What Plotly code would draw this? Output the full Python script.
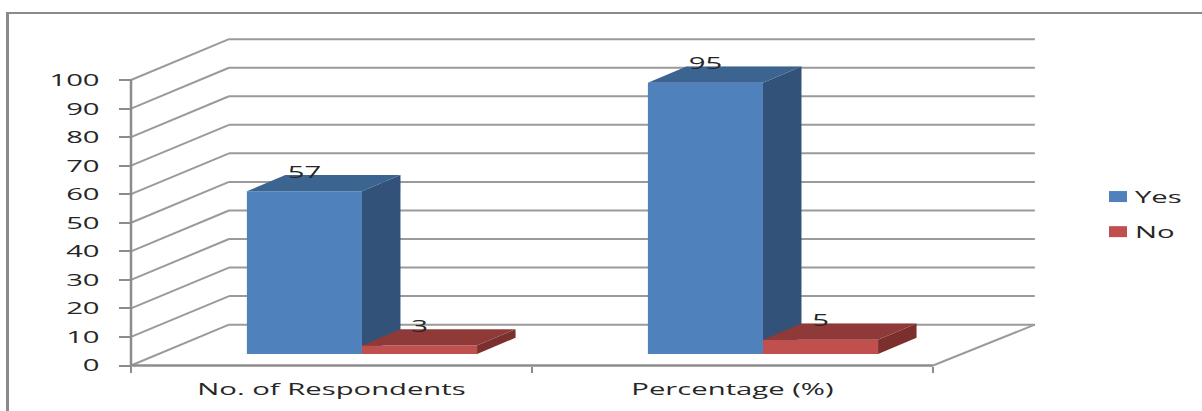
import plotly.graph_objects as go

# Survey results
categories = ["No. of Respondents", "Percentage (%)"]
yes_values = [57, 95]
no_values = [3, 5]
y_ticks = [0, 10, 20, 30, 40, 50, 60, 70, 80, 90, 100]

# Oblique projection of the fake 3D box, in axis units
WALL_DX, WALL_DY = 0.2444, 14.3      # floor front edge to back wall
WALL_END = 2.254                     # right end of the back wall
BAR_DX, BAR_DY = 0.096, 5.7          # depth of each bar
BAR_LIFT = 4.03                      # bars stand slightly behind the floor edge
BAR_W = 0.287
YES_OFFSET, NO_OFFSET = 0.289, 0.576

X_RANGE = [-131 / 401, 1071 / 401]
Y_RANGE = [-45.5 / 2.855, 365.5 / 2.855]

GRID = "#9a9a9a"
FONT = dict(family="Open Sans", size=17, color="#262626")

fig = go.Figure()
shapes = []


def seg(x0, y0, x1, y1, color=GRID, width=2):
    shapes.append(dict(type="line", xref="x", yref="y", x0=x0, y0=y0, x1=x1, y1=y1,
                       layer="below", line=dict(color=color, width=width)))


# Wall gridlines and the floor outline
for v in y_ticks:
    seg(0, v, WALL_DX, v + WALL_DY)
    seg(WALL_DX, v + WALL_DY, WALL_END, v + WALL_DY)
seg(2, 0, WALL_END, WALL_DY)
seg(0, 0, 0, 100, "#8c8c8c", 2.5)
seg(0, 0, 2, 0, "#8c8c8c", 2.5)

# Outer chart frame (open on the right and at the bottom)
shapes.append(dict(type="line", xref="paper", yref="paper", x0=7.5 / 1202, x1=7.5 / 1202,
                   y0=0, y1=1 - 13 / 411, line=dict(color="#8a8a8a", width=3)))
shapes.append(dict(type="line", xref="paper", yref="paper", x0=6 / 1202, x1=1,
                   y0=1 - 13 / 411, y1=1 - 13 / 411, line=dict(color="#8a8a8a", width=2)))


def box_faces(left, value, top_color, side_color, xa, ya):
    """Top and right faces of a bar whose front face is drawn as a Bar trace."""
    right = left + BAR_W
    y0, y1 = BAR_LIFT, BAR_LIFT + value
    fig.add_trace(go.Scatter(
        x=[right, right + BAR_DX, right + BAR_DX, right, right],
        y=[y0, y0 + BAR_DY, y1 + BAR_DY, y1, y0],
        mode="lines", fill="toself", fillcolor=side_color, line=dict(width=0),
        showlegend=False, hoverinfo="skip", xaxis=xa, yaxis=ya))
    fig.add_trace(go.Scatter(
        x=[left, left + BAR_DX, right + BAR_DX, right, left],
        y=[y1, y1 + BAR_DY, y1 + BAR_DY, y1, y1],
        mode="lines", fill="toself", fillcolor=top_color, line=dict(width=0),
        showlegend=False, hoverinfo="skip", xaxis=xa, yaxis=ya))


# The No series lives on an overlaying axis pair so its boxes sit in front of Yes
series = [
    ("Yes", yes_values, YES_OFFSET, "#4F81BD", "#3C6491", "#325279", "x", "y"),
    ("No", no_values, NO_OFFSET, "#C0504D", "#8F3A38", "#7C302E", "x2", "y2"),
]

for name, values, offset, front, top, side, xa, ya in series:
    lefts = [i + offset for i in range(len(values))]
    fig.add_trace(go.Bar(
        name=name, legendgroup=name, xaxis=xa, yaxis=ya,
        x=[l + BAR_W / 2 for l in lefts], y=values, base=BAR_LIFT, width=BAR_W,
        marker=dict(color=front, line=dict(width=0))))
    for l, v in zip(lefts, values):
        box_faces(l, v, top, side, xa, ya)
    # Value labels sit just above each bar's top face
    fig.add_trace(go.Scatter(
        x=[l + BAR_W / 2 for l in lefts],
        y=[BAR_LIFT + v + 6.3 for v in values],
        mode="text", text=[str(v) for v in values], textposition="middle center",
        textfont=FONT, showlegend=False, hoverinfo="skip", xaxis=xa, yaxis=ya))

fig.update_layout(
    width=1202, height=411,
    margin=dict(l=0, r=0, t=0, b=0),
    paper_bgcolor="white", plot_bgcolor="white",
    shapes=shapes, barmode="overlay", showlegend=True,
    font=FONT,
    legend=dict(x=1098 / 1202, y=1 - 179 / 411, xanchor="left", yanchor="top",
                bgcolor="rgba(0,0,0,0)", traceorder="grouped", tracegroupgap=10,
                itemwidth=30, font=FONT),
    xaxis=dict(range=X_RANGE, domain=[0, 1], anchor="free",
               position=45.5 / 411, showgrid=False, zeroline=False, showline=False,
               tickmode="array", tickvals=[0.5, 1.5], ticktext=categories, ticks="",
               ticklabelstandoff=11, tickfont=FONT,
               minor=dict(tickmode="array", tickvals=[0, 1, 2], ticks="outside",
                          ticklen=6, tickwidth=2, tickcolor="#8c8c8c", showgrid=False)),
    yaxis=dict(range=Y_RANGE, domain=[0, 1], anchor="free",
               position=131 / 1202, showgrid=False, zeroline=False, showline=False,
               tickmode="array", tickvals=y_ticks, ticks="outside", ticklen=12,
               tickwidth=2, tickcolor="#8c8c8c", ticklabelstandoff=16, tickfont=FONT),
    xaxis2=dict(range=X_RANGE, domain=[0, 1], overlaying="x", visible=False),
    yaxis2=dict(range=Y_RANGE, domain=[0, 1], overlaying="y", visible=False),
)

# Chart text is set wide: stretch glyphs horizontally, keeping each anchor,
# widen the legend keys to match, and let the wider legend text overflow its box
stretch_text = """
document.querySelectorAll('.xtick text, .ytick text, .legendtext, .textpoint text').forEach(function (t) {
  t.setAttribute('textLength', t.getComputedTextLength() * 1.72);
  t.setAttribute('lengthAdjust', 'spacingAndGlyphs');
});
document.querySelectorAll('.legendtext').forEach(function (t) {
  t.setAttribute('x', parseFloat(t.getAttribute('x')) - 3);
});
document.querySelectorAll('.legendpoints path').forEach(function (p) {
  p.setAttribute('d', 'M9,5.5H-9V-5.5H9Z');
});
document.querySelectorAll('.legend, .legend *').forEach(function (e) {
  e.removeAttribute('clip-path');
  e.style.clipPath = 'none';
});
"""

fig.write_html("out.html", config=dict(displayModeBar=False), post_script=stretch_text)
